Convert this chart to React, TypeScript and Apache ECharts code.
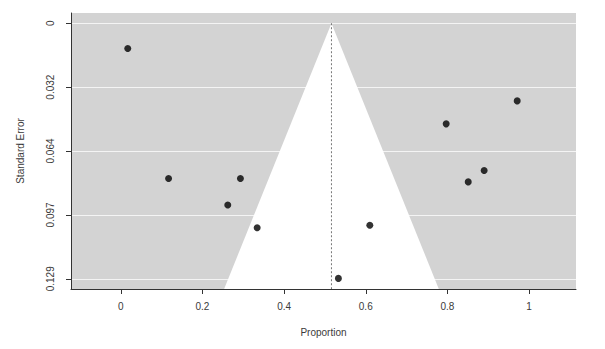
import React, { useEffect, useRef } from "react";
import * as echarts from "echarts";

const proportions = [0.017, 0.117, 0.293, 0.262, 0.334, 0.610, 0.533, 0.797, 0.971, 0.851, 0.890];
const standardErrors = [0.0128, 0.0784, 0.0784, 0.0918, 0.1032, 0.1020, 0.1288, 0.0508, 0.0392, 0.0801, 0.0743];
const referenceProportion = 0.516;
const xTickValues = [0, 0.2, 0.4, 0.6, 0.8, 1];
const xTickLabels = ["0", "0.2", "0.4", "0.6", "0.8", "1"];
const yTickValues = [0, 0.03225, 0.0645, 0.09675, 0.129];
const yTickLabels = ["0", "0.032", "0.064", "0.097", "0.129"];
const xRange = [-0.122, 1.115];
const yRange = [-0.00516, 0.13416];

export default function App() {
  const ref = useRef<HTMLDivElement>(null);
  useEffect(() => {
    document.body.style.margin = "0";
    if (!ref.current) return;
    const chart = echarts.init(ref.current, null, { renderer: "svg" });
    const textColor = "#3a3a3a";
    const font = "Liberation Sans";
    const fmt = (vals: number[], labels: string[]) => (v: number) => {
      const i = vals.findIndex((t) => Math.abs(t - v) < 1e-6);
      return i >= 0 ? labels[i] : "";
    };
    const seMax = yRange[1];
    chart.setOption({
      animation: false,
      grid: {
        left: 71,
        right: 29,
        top: 13,
        bottom: 60,
        show: true,
        backgroundColor: "#d3d3d3",
        borderWidth: 0,
      },
      xAxis: {
        type: "value",
        min: xRange[0],
        max: xRange[1],
        name: "Proportion",
        nameLocation: "middle",
        nameGap: 38,
        nameTextStyle: { color: textColor, fontFamily: font, fontSize: 10 },
        axisLine: { show: true, onZero: false, lineStyle: { color: "#333", width: 1 } },
        axisTick: { show: true, length: 5, customValues: xTickValues, lineStyle: { color: "#333" } },
        axisLabel: {
          customValues: xTickValues,
          formatter: fmt(xTickValues, xTickLabels),
          color: textColor,
          fontFamily: font,
          fontSize: 10,
          margin: 12,
        },
        splitLine: { show: false },
      },
      yAxis: {
        type: "value",
        inverse: true,
        min: yRange[0],
        max: yRange[1],
        name: "Standard Error",
        nameLocation: "middle",
        nameGap: 46,
        nameRotate: 90,
        nameTextStyle: { color: textColor, fontFamily: font, fontSize: 10 },
        axisLine: { show: true, onZero: false, lineStyle: { color: "#333", width: 1 } },
        axisTick: { show: true, length: 5, customValues: yTickValues, lineStyle: { color: "#333" } },
        axisLabel: {
          customValues: yTickValues,
          formatter: fmt(yTickValues, yTickLabels),
          rotate: 90,
          color: textColor,
          fontFamily: font,
          fontSize: 10,
          margin: 16,
        },
        splitLine: { show: true, lineStyle: { color: "#f4f4f4", width: 1 } },
      },
      series: [
        {
          type: "custom",
          silent: true,
          z: 1,
          data: [[referenceProportion, seMax]],
          renderItem: (params: any, api: any) => {
            const r = api.value(0);
            const s = api.value(1);
            const p1 = api.coord([r - 1.96 * s, s]);
            const p2 = api.coord([r, 0]);
            const p3 = api.coord([r + 1.96 * s, s]);
            return {
              type: "polygon",
              shape: { points: [p1, p2, p3] },
              style: { fill: "#ffffff", stroke: null },
            };
          },
        },
        {
          type: "line",
          silent: true,
          z: 2,
          symbol: "none",
          data: [
            [referenceProportion, 0],
            [referenceProportion, seMax],
          ],
          lineStyle: { color: "#777", width: 1, type: [2, 2] },
        },
        {
          type: "scatter",
          z: 3,
          symbol: "circle",
          symbolSize: 7,
          itemStyle: { color: "#000" },
          data: proportions.map((p, i) => [p, standardErrors[i]]),
        },
      ],
    });
    return () => chart.dispose();
  }, []);
  return <div ref={ref} style={{ width: 605, height: 349 }} />;
}
